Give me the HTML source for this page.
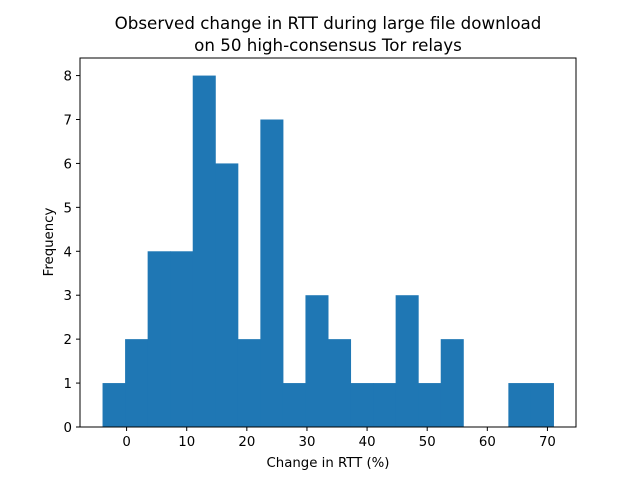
<!DOCTYPE html>
<html><head><meta charset="utf-8"><style>
body{margin:0;background:#fff}
svg{display:block;font-family:"DejaVu Sans","Liberation Sans",sans-serif}
</style></head><body>
<svg id="chart" width="640" height="480">
<text x="328" y="29" text-anchor="middle" font-size="16.7">Observed change in RTT during large file download</text>
<text x="328" y="51" text-anchor="middle" font-size="16.7">on 50 high-consensus Tor relays</text>
<g id="bars"></g>
<g id="axes"></g>
<text x="328" y="467" text-anchor="middle" font-size="13.3">Change in RTT (%)</text>
<text transform="translate(53,242) rotate(-90)" text-anchor="middle" font-size="13.3">Frequency</text>
</svg>
<script>
const binStart = -4;
const binWidth = 3.75;
const counts = [1,2,4,4,8,6,2,7,1,3,2,1,1,3,1,2,0,0,1,1];
const xTicks = [0,10,20,30,40,50,60,70];
const yTicks = [0,1,2,3,4,5,6,7,8];
const L=80,R=576,T=58,B=427;
const xmin=-7.75,xmax=74.75,ymin=0,ymax=8.4;
const xs=v=>L+(v-xmin)/(xmax-xmin)*(R-L);
const ys=v=>B-(v-ymin)/(ymax-ymin)*(B-T);
const NS="http://www.w3.org/2000/svg";
const bars=document.getElementById('bars');
counts.forEach((c,i)=>{
  if(c<=0) return;
  const x0=xs(binStart+i*binWidth), x1=xs(binStart+(i+1)*binWidth);
  const r=document.createElementNS(NS,'rect');
  r.setAttribute('x',x0);r.setAttribute('width',x1-x0+0.5);
  r.setAttribute('y',ys(c));r.setAttribute('height',ys(0)-ys(c));
  r.setAttribute('fill','#1f77b4');
  
  
  bars.appendChild(r);
});
const ax=document.getElementById('axes');
const fr=document.createElementNS(NS,'rect');
fr.setAttribute('x',L);fr.setAttribute('y',T);fr.setAttribute('width',R-L);fr.setAttribute('height',B-T);
fr.setAttribute('fill','none');fr.setAttribute('stroke','#000');fr.setAttribute('stroke-width','1');


ax.appendChild(fr);
xTicks.forEach(t=>{
  const x=xs(t);
  const l=document.createElementNS(NS,'line');
  l.setAttribute('x1',x);l.setAttribute('x2',x);l.setAttribute('y1',B);l.setAttribute('y2',B+4);l.setAttribute('stroke','#000');
  
  
  ax.appendChild(l);
  const tx=document.createElementNS(NS,'text');
  tx.setAttribute('x',x);tx.setAttribute('y',B+19);tx.setAttribute('text-anchor','middle');tx.setAttribute('font-size','13.3');
  tx.textContent=t;
  
  
  ax.appendChild(tx);
});
yTicks.forEach(t=>{
  const y=ys(t);
  const l=document.createElementNS(NS,'line');
  l.setAttribute('x1',L-4);l.setAttribute('x2',L);l.setAttribute('y1',y);l.setAttribute('y2',y);l.setAttribute('stroke','#000');
  
  
  ax.appendChild(l);
  const tx=document.createElementNS(NS,'text');
  tx.setAttribute('x',L-8);tx.setAttribute('y',y+5);tx.setAttribute('text-anchor','end');tx.setAttribute('font-size','13.3');
  tx.textContent=t;
  
  
  ax.appendChild(tx);
});
</script>
</body></html>
